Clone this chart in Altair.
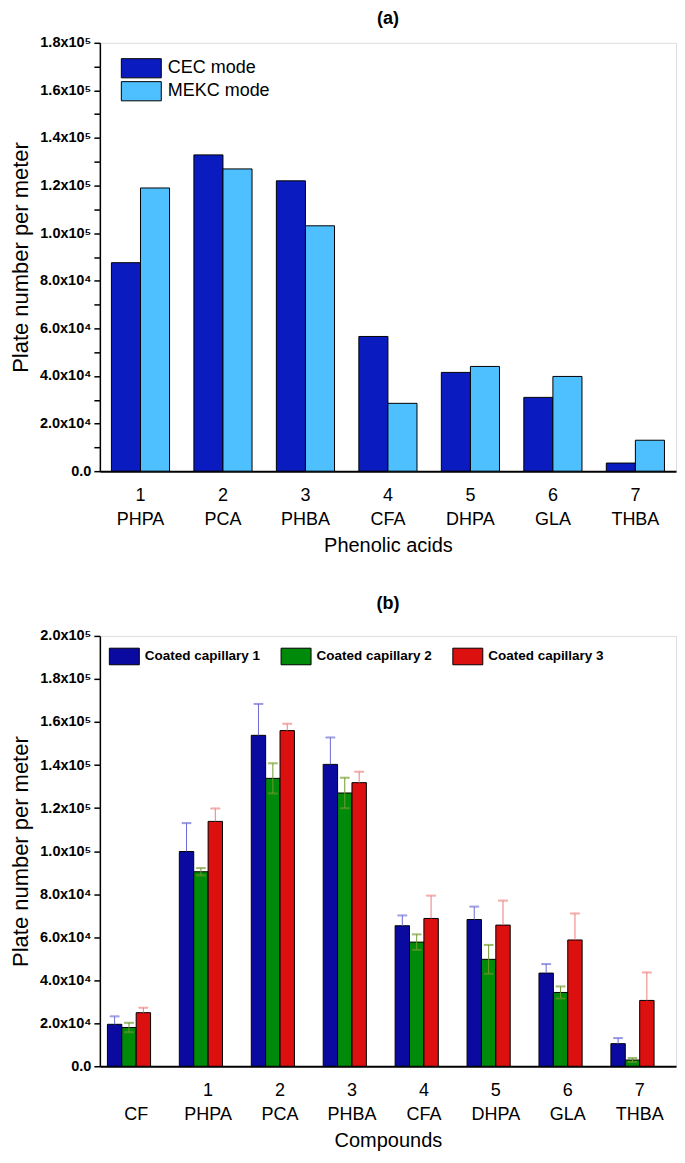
import altair as alt
import pandas as pd

FONT = "Liberation Sans"

# ---------- panel (a) data ----------
acids_a = ["1|PHPA", "2|PCA", "3|PHBA", "4|CFA", "5|DHPA", "6|GLA", "7|THBA"]
modes_a = ["CEC mode", "MEKC mode"]
cec_vals = [87600, 132900, 122000, 56600, 41500, 31000, 3400]
mekc_vals = [119000, 127000, 103100, 28500, 44000, 39800, 13000]

# ---------- panel (b) data ----------
compounds_b = ["CF", "1|PHPA", "2|PCA", "3|PHBA", "4|CFA", "5|DHPA", "6|GLA", "7|THBA"]
series_b = ["Coated capillary 1", "Coated capillary 2", "Coated capillary 3"]
cap1_vals = [19500, 99800, 153800, 140300, 65300, 68200, 43300, 10500]
cap1_err = [3700, 13200, 14600, 12500, 4800, 6000, 4200, 2600]
cap2_vals = [18000, 90400, 133800, 127000, 57700, 49700, 34300, 2900]
cap2_err = [2200, 1700, 7000, 7100, 3600, 6700, 2800, 900]
cap3_vals = [24900, 113800, 156000, 131800, 68700, 65600, 58700, 30600]
cap3_err = [2300, 6000, 3200, 5100, 10600, 11400, 12300, 13000]

rows_a = []
for i, a in enumerate(acids_a):
    rows_a.append({"acid": a, "mode": modes_a[0], "value": cec_vals[i]})
    rows_a.append({"acid": a, "mode": modes_a[1], "value": mekc_vals[i]})
df_a = pd.DataFrame(rows_a)

rows_b = []
for vals, errs, s in [(cap1_vals, cap1_err, series_b[0]),
                      (cap2_vals, cap2_err, series_b[1]),
                      (cap3_vals, cap3_err, series_b[2])]:
    for c, v, e in zip(compounds_b, vals, errs):
        both = s == series_b[1]
        rows_b.append({"compound": c, "series": s, "value": v,
                       "lo": v - e if both else v, "hi": v + e, "both": both})
df_b = pd.DataFrame(rows_b)

YLABEL = (
    "datum.value == 0 ? '0.0' : (datum.value % 20000 != 0 ? '' : "
    "(datum.value >= 99999 ? format(datum.value/100000, '.1f') + 'x10⁵' : "
    "format(datum.value/10000, '.1f') + 'x10⁴'))"
)


def y_axis(top):
    return alt.Axis(
        values=list(range(0, top + 1, 10000)),
        labelExpr=YLABEL,
        labelFont=FONT, labelFontWeight="bold", labelFontSize=14.5, labelColor="black",
        labelOverlap=False, labelPadding=3,
        tickColor="black", tickSize=6, tickWidth=1.5,
        domainColor="black", domainWidth=1.5, grid=False,
        title="Plate number per meter", titleFont=FONT, titleFontSize=22,
        titleFontWeight="normal", titleColor="black", titlePadding=7,
    )


def x_axis(title):
    return alt.Axis(
        labelExpr="datum.label == 'CF' ? [' ', 'CF'] : split(datum.label, '|')",
        labelAngle=0, ticks=False, tickSize=0,
        labelFont=FONT, labelFontSize=18, labelColor="black", labelLineHeight=24,
        labelBaseline="top", labelPadding=15,
        domainColor="black", domainWidth=2,
        title=title, titleFont=FONT, titleFontSize=20, titleFontWeight="normal",
        titleColor="black", titlePadding=7,
    )


W = 577

chart_a = alt.Chart(df_a).mark_bar(stroke="black", strokeWidth=1).encode(
    x=alt.X("acid:N", sort=acids_a,
            scale=alt.Scale(paddingInner=0.295, paddingOuter=0.14),
            axis=x_axis("Phenolic acids")),
    xOffset=alt.XOffset("mode:N", sort=modes_a,
                        scale=alt.Scale(paddingInner=0, paddingOuter=0)),
    y=alt.Y("value:Q", scale=alt.Scale(domain=[0, 180000], nice=False),
            axis=y_axis(180000)),
    color=alt.Color("mode:N",
                    scale=alt.Scale(domain=modes_a, range=["#0a1cbf", "#4fc0ff"]),
                    legend=alt.Legend(
                        title=None, orient="none", legendX=31, legendY=15,
                        symbolType="M-2,-0.96H2V0.96H-2Z", symbolSize=400,
                        symbolStrokeColor="black", symbolStrokeWidth=1,
                        labelFont=FONT, labelFontSize=18, labelColor="black",
                        labelOffset=16, rowPadding=-3, padding=0)),
).properties(
    width=W, height=429,
    title=alt.TitleParams("(a)", font=FONT, fontSize=18, fontWeight="bold",
                          color="black", offset=7),
)

# panel (b)
offset_domain = series_b + ["_pad"]
xb = alt.X("compound:N", sort=compounds_b,
           scale=alt.Scale(paddingInner=0.2, paddingOuter=0.105),
           axis=x_axis("Compounds"))
xob = alt.XOffset("series:N", sort=offset_domain,
                  scale=alt.Scale(domain=offset_domain, paddingInner=0, paddingOuter=0))
yscale_b = alt.Scale(domain=[0, 200000], nice=False)
err_stroke = alt.Stroke("series:N",
                        scale=alt.Scale(domain=series_b,
                                        range=["#6a6ad4", "#6f9a2a", "#f07a7a"]),
                        legend=None)

bars_b = alt.Chart(df_b).mark_bar(stroke="black", strokeWidth=1).encode(
    x=xb, xOffset=xob,
    y=alt.Y("value:Q", scale=yscale_b, axis=y_axis(200000)),
    fill=alt.Fill("series:N",
                  scale=alt.Scale(domain=series_b,
                                  range=["#0a0aa0", "#008a0a", "#dd1010"]),
                  legend=alt.Legend(
                      title=None, orient="none", legendX=14, legendY=10,
                      direction="horizontal", columns=3, columnPadding=18,
                      symbolType="M-1.5,-0.83H1.5V0.83H-1.5Z", symbolSize=400,
                      symbolStrokeColor="black", symbolStrokeWidth=1,
                      labelFont=FONT, labelFontSize=13.5, labelFontWeight="bold",
                      labelColor="black", labelOffset=10, padding=0)),
)

err_rule = alt.Chart(df_b).mark_rule(strokeWidth=1).encode(
    x=xb, xOffset=xob, y=alt.Y("lo:Q", scale=yscale_b), y2="hi:Q", stroke=err_stroke,
)
err_top = alt.Chart(df_b).mark_tick(size=9, thickness=1, fill=None).encode(
    x=xb, xOffset=xob, y=alt.Y("hi:Q", scale=yscale_b), stroke=err_stroke,
)
err_bot = alt.Chart(df_b).transform_filter("datum.both").mark_tick(
    size=9, thickness=1, fill=None).encode(
    x=xb, xOffset=xob, y=alt.Y("lo:Q", scale=yscale_b), stroke=err_stroke,
)

chart_b = alt.layer(bars_b, err_rule, err_top, err_bot).resolve_scale(
    fill="independent", stroke="independent"
).properties(
    width=W, height=431,
    title=alt.TitleParams("(b)", font=FONT, fontSize=18, fontWeight="bold",
                          color="black", offset=15),
)

chart = alt.vconcat(chart_a, chart_b, spacing=38).resolve_scale(
    x="independent", y="independent", xOffset="independent",
    color="independent", fill="independent", stroke="independent",
).resolve_legend(color="independent", fill="independent").properties(
    padding={"left": 0, "top": 0, "right": 0, "bottom": 0}
).configure_view(
    stroke="black", strokeWidth=1.5
).configure(font=FONT)

chart.save("out.html", embed_options={"renderer": "svg", "actions": False})
